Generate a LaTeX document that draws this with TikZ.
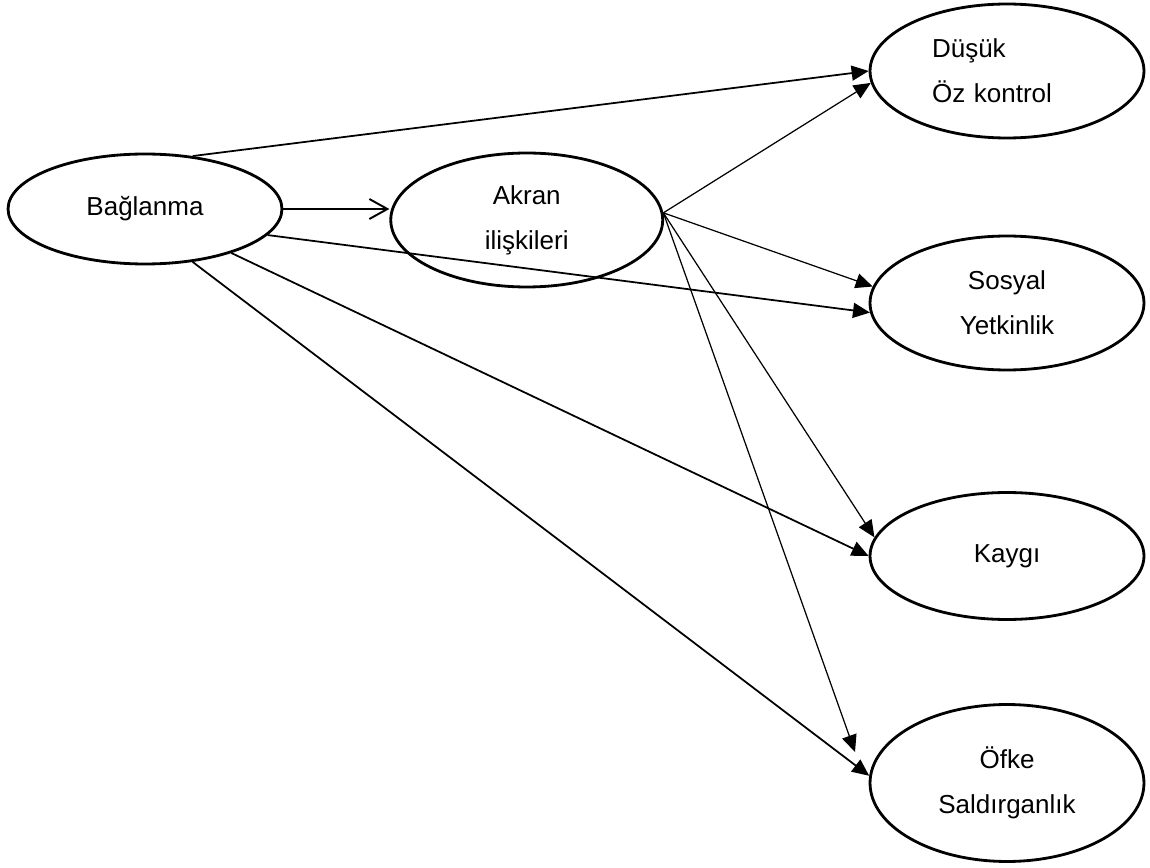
\documentclass[tikz,border=0pt]{standalone}
\usepackage{fontspec}
\setmainfont{Liberation Sans}
\usetikzlibrary{arrows.meta,positioning,shapes.geometric}

\begin{document}
\begin{tikzpicture}[
  x=0.02cm, y=-0.02cm,
  oval/.style={draw, ellipse, line width=1.6pt, inner sep=0pt, align=center, minimum width=5.48cm, minimum height=2.68cm, font=\fontsize{14.8}{25.6}\selectfont},
  arrow/.style={-{Triangle[length=0.34cm, width=0.3cm]}, line width=1pt},
  thinarrow/.style={arrow, line width=0.7pt},
  openarrow/.style={-{Straight Barb[length=0.36cm, width=0.4cm]}, line width=1.1pt}
]
\useasboundingbox (0,0) rectangle (1150,868);
\node[oval, minimum height=2.2cm] (baglanma) at (145,209) {Bağlanma};
\node[oval, minimum width=5.44cm, right=2.12cm of baglanma, yshift=-0.22cm] (akran) {Akran\\ilişkileri};
\node[oval, text width=3cm, align=left] (dusuk) at (1007,71) {Düşük\\Öz kontrol};
\node[oval] (sosyal) at (1007,303) {Sosyal\\Yetkinlik};
\node[oval, minimum height=2.54cm] (kaygi) at (1007,556) {Kaygı};
\node[oval, minimum height=3.14cm] (ofke) at (1007,783) {Öfke\\Saldırganlık};
\coordinate (ofketip) at (855,752);
\draw[arrow] (baglanma.48) -- (dusuk.west);
\draw[openarrow] (baglanma.east) -- (baglanma.east -| akran.west);
\draw[arrow] (baglanma.348) -- (sosyal.184);
\draw[arrow] (baglanma.333) -- (kaygi.west);
\draw[arrow] (baglanma.312) -- (ofke.177);
\draw[thinarrow] (akran.3) -- (dusuk.185);
\draw[thinarrow] (akran.3) -- (sosyal.173);
\draw[thinarrow] (akran.3) -- (kaygi.172);
\draw[thinarrow] (akran.3) -- (ofketip);
\end{tikzpicture}
\end{document}
